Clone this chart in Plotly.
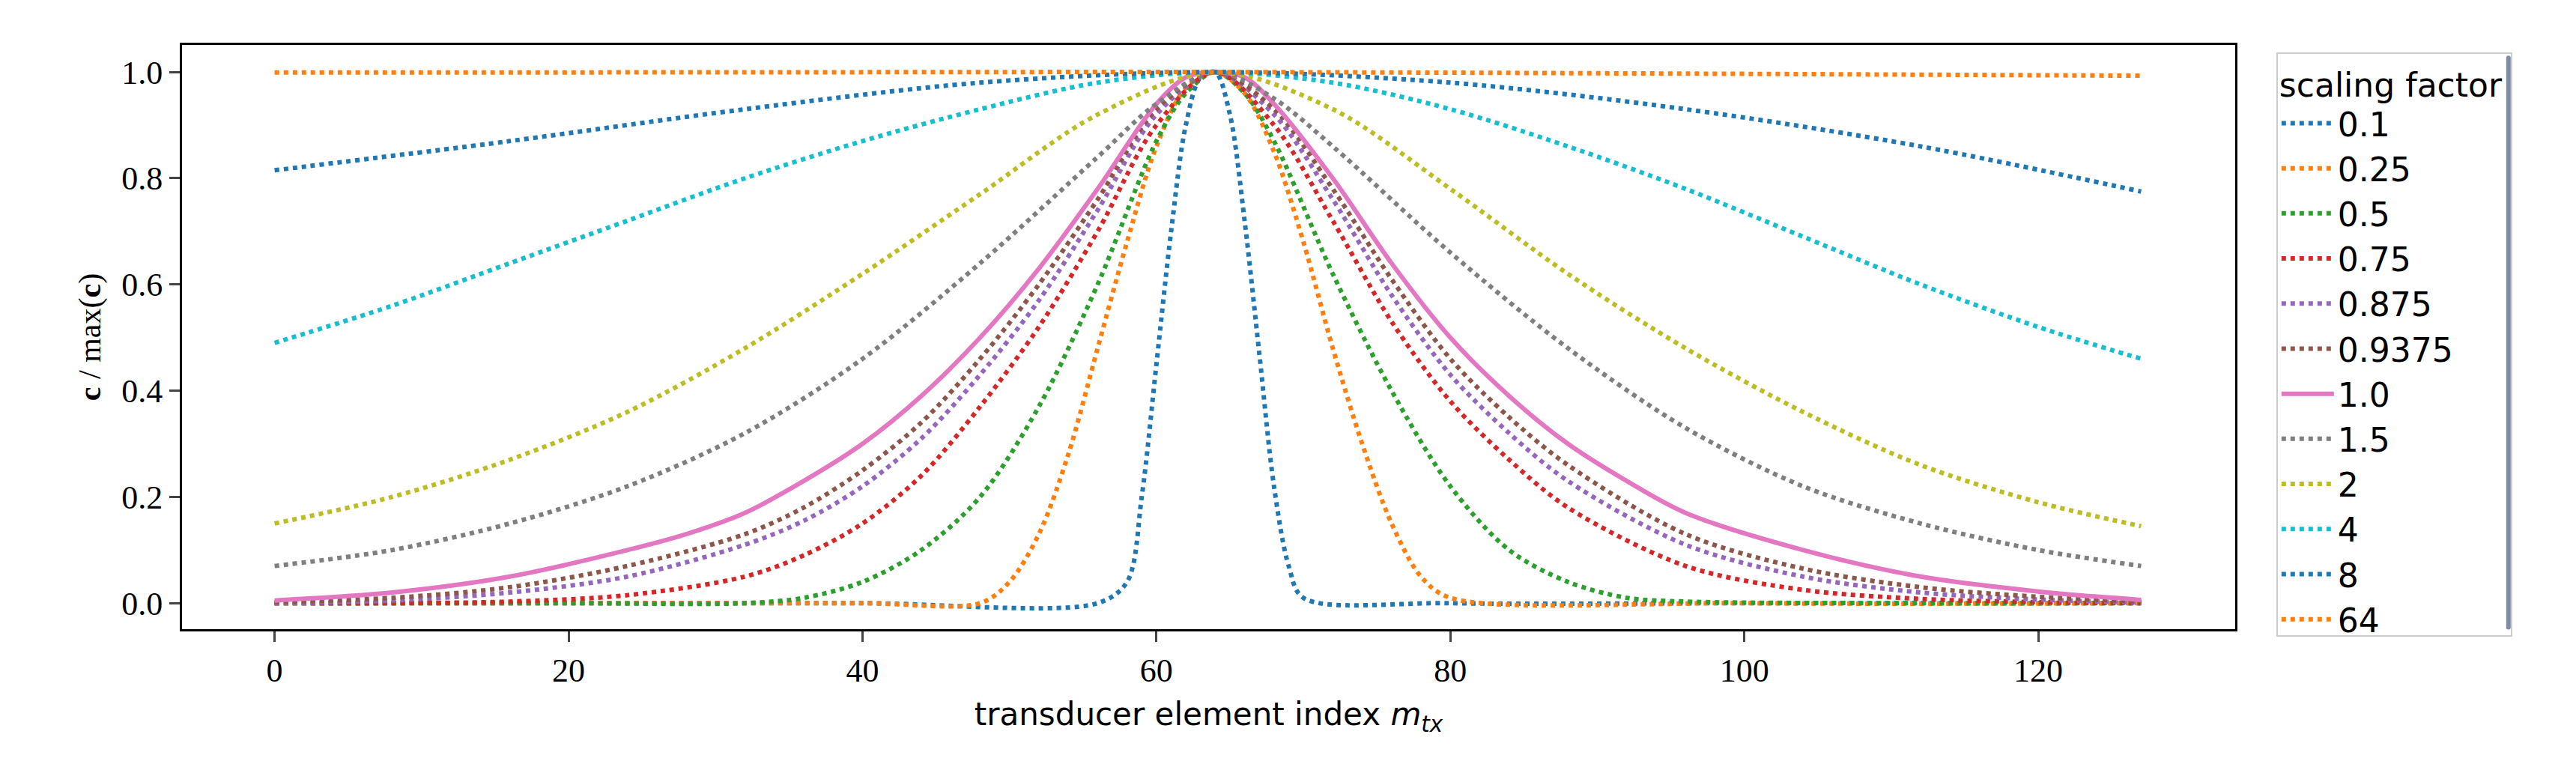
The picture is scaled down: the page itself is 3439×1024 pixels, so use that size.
import plotly.graph_objects as go

names = ["0.1", "0.25", "0.5", "0.75", "0.875", "0.9375", "1.0", "1.5", "2", "4", "8", "64"]
colors = ["#1f77b4", "#ff7f0e", "#2ca02c", "#d62728", "#9467bd", "#8c564b",
          "#e377c2", "#7f7f7f", "#bcbd22", "#17becf", "#1f77b4", "#ff7f0e"]

x_01 = [0, 20, 40, 56, 58, 59, 60, 61, 62, 63, 64, 65, 66, 67, 68, 69, 70, 80, 100, 127]
y_01 = [0, 0, 0, 0, 0.04, 0.2, 0.45, 0.7, 0.9, 0.99, 1.0, 0.92, 0.72, 0.47, 0.22, 0.07, 0.01, 0, 0, 0]

x_025 = [0, 20, 40, 48, 50, 52, 54, 56, 58, 60, 62, 64, 66, 68, 70, 72, 74, 76, 78, 80, 100, 127]
y_025 = [0, 0, 0, 0, 0.04, 0.13, 0.28, 0.48, 0.68, 0.86, 0.97, 1.0, 0.96, 0.85, 0.68, 0.48, 0.3, 0.15, 0.05, 0.01, 0, 0]

x_05 = [0, 20, 32, 36, 40, 44, 48, 52, 56, 60, 62, 64, 66, 68, 72, 76, 80, 84, 88, 92, 96, 110, 127]
y_05 = [0, 0, 0, 0.01, 0.04, 0.1, 0.2, 0.37, 0.6, 0.87, 0.96, 1.0, 0.96, 0.87, 0.62, 0.4, 0.22, 0.1, 0.04, 0.01, 0.003, 0, 0]

x_075 = [0, 8, 16, 24, 32, 36, 40, 44, 48, 52, 56, 60, 64, 68, 72, 76, 80, 84, 88, 96, 104, 112, 120, 127]
y_075 = [0, 0, 0.003, 0.015, 0.05, 0.09, 0.15, 0.24, 0.37, 0.52, 0.7, 0.9, 1.0, 0.9, 0.72, 0.53, 0.38, 0.27, 0.18, 0.07, 0.025, 0.008, 0.002, 0]

x_0875 = [0, 8, 16, 24, 32, 36, 40, 44, 48, 52, 56, 60, 64, 68, 72, 76, 80, 84, 88, 96, 104, 112, 120, 127]
y_0875 = [0, 0.005, 0.02, 0.05, 0.11, 0.155, 0.22, 0.31, 0.43, 0.57, 0.74, 0.92, 1.0, 0.92, 0.76, 0.58, 0.43, 0.32, 0.23, 0.11, 0.05, 0.02, 0.007, 0.001]

x_09375 = [0, 8, 16, 24, 32, 36, 40, 44, 48, 52, 56, 60, 64, 68, 72, 76, 80, 84, 88, 96, 104, 112, 120, 127]
y_09375 = [0.002, 0.01, 0.03, 0.07, 0.13, 0.18, 0.25, 0.34, 0.46, 0.6, 0.76, 0.93, 1.0, 0.93, 0.78, 0.61, 0.46, 0.35, 0.26, 0.13, 0.065, 0.03, 0.012, 0.003]

x_1 = [0, 8, 16, 24, 28, 32, 36, 40, 44, 48, 52, 56, 60, 62, 64, 66, 68, 72, 76, 80, 84, 88, 92, 96, 104, 112, 120, 127]
y_1 = [0.005, 0.02, 0.05, 0.1, 0.13, 0.17, 0.23, 0.3, 0.39, 0.5, 0.63, 0.78, 0.94, 0.99, 1.0, 0.99, 0.94, 0.8, 0.64, 0.5, 0.39, 0.3, 0.23, 0.17, 0.1, 0.05, 0.022, 0.006]

x_15 = [0, 8, 16, 24, 32, 40, 48, 56, 60, 64, 68, 72, 80, 88, 96, 104, 112, 120, 127]
y_15 = [0.07, 0.1, 0.15, 0.22, 0.32, 0.46, 0.64, 0.84, 0.94, 1.0, 0.95, 0.86, 0.66, 0.48, 0.33, 0.22, 0.15, 0.1, 0.07]

x_2 = [0, 8, 16, 24, 32, 40, 48, 56, 64, 72, 80, 88, 96, 104, 112, 120, 127]
y_2 = [0.15, 0.2, 0.27, 0.36, 0.48, 0.62, 0.77, 0.92, 1.0, 0.93, 0.78, 0.62, 0.48, 0.36, 0.26, 0.19, 0.145]

x_4 = [0, 8, 16, 24, 32, 40, 48, 56, 64, 72, 80, 88, 96, 104, 112, 120, 127]
y_4 = [0.49, 0.56, 0.64, 0.72, 0.8, 0.87, 0.93, 0.98, 1.0, 0.98, 0.93, 0.86, 0.78, 0.69, 0.6, 0.52, 0.46]

x_8 = [0, 16, 32, 48, 64, 80, 96, 112, 127]
y_8 = [0.815, 0.87, 0.93, 0.98, 1.0, 0.98, 0.93, 0.86, 0.775]

x_64 = [0, 32, 64, 96, 127]
y_64 = [0.999, 0.9995, 1.0, 0.997, 0.993]

xs = [x_01, x_025, x_05, x_075, x_0875, x_09375, x_1, x_15, x_2, x_4, x_8, x_64]
ys = [y_01, y_025, y_05, y_075, y_0875, y_09375, y_1, y_15, y_2, y_4, y_8, y_64]

fig = go.Figure()
for n, c, x, y in zip(names, colors, xs, ys):
    fig.add_trace(go.Scatter(
        x=x, y=y, name=n, mode="lines",
        line=dict(color=c, width=6, dash="solid" if n == "1.0" else "dot",
                  shape="spline", smoothing=0.9)))

axis_common = dict(showline=True, mirror=True, linecolor="black", linewidth=3,
                   ticks="outside", ticklen=14, tickwidth=3, showgrid=False,
                   zeroline=False, tickfont=dict(family="Liberation Serif", size=44, color="black"))
fig.update_xaxes(range=[-6.3, 133.4], tickvals=[0, 20, 40, 60, 80, 100, 120],
                 title=dict(text="transducer element index <i>m<sub>tx</sub></i>",
                            font=dict(family="DejaVu Sans", size=42, color="black"), standoff=20),
                 **axis_common)
fig.update_yaxes(range=[-0.049, 1.051], tickvals=[0, 0.2, 0.4, 0.6, 0.8, 1.0],
                 tickformat=".1f",
                 title=dict(text="<b>c</b> / max(<b>c</b>)",
                            font=dict(family="Liberation Serif", size=42, color="black"), standoff=15),
                 **axis_common)
fig.update_layout(
    width=3439, height=1024, plot_bgcolor="white", paper_bgcolor="white",
    margin=dict(l=235, r=463, t=52, b=192),
    legend=dict(title=dict(text="scaling factor", font=dict(family="DejaVu Sans", size=44)),
                font=dict(family="DejaVu Sans", size=44, color="black"),
                x=1.02, xanchor="left", y=0.987, yanchor="top",
                bordercolor="#cccccc", borderwidth=2, bgcolor="white",
                itemwidth=70, tracegroupgap=0),
)
fig.write_html("out.html")
